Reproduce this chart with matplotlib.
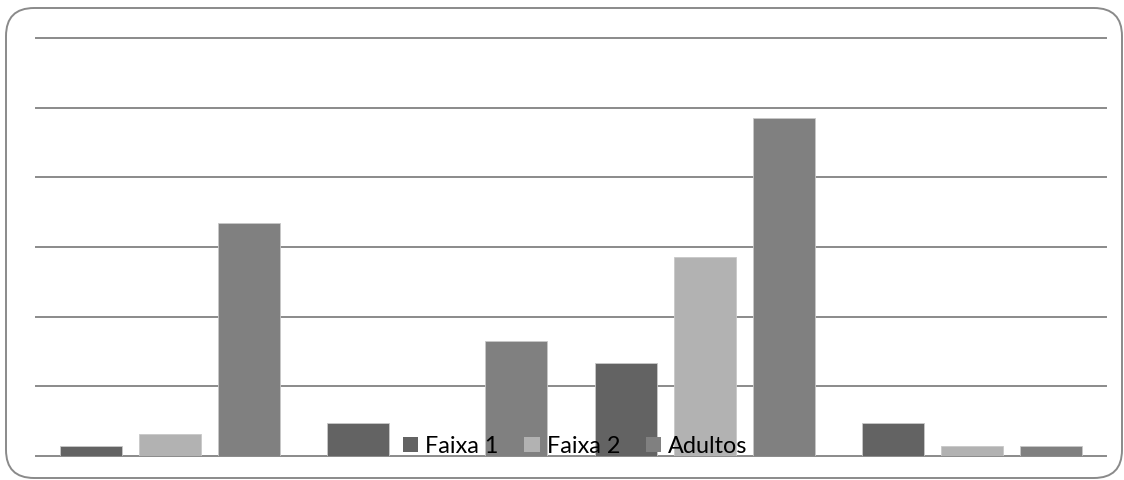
import numpy as np
import matplotlib
matplotlib.use("Agg")
import matplotlib.pyplot as plt
from matplotlib.patches import FancyBboxPatch

# data (gridline step = 1)
groups = ["G1", "G2", "G3", "G4"]
faixa_1 = [0.14, 0.47, 1.33, 0.47]
faixa_2 = [0.32, 0.0, 2.85, 0.14]
adultos = [3.34, 1.65, 4.85, 0.14]
series_names = ["Faixa 1", "Faixa 2", "Adultos"]
series_colors = ["#636363", "#b2b2b2", "#808080"]

plt.rcParams['font.family'] = ['Lato', 'DejaVu Sans']

fig = plt.figure(figsize=(11.24, 4.81), dpi=100)

# rounded outer frame
frame = FancyBboxPatch((6 / 1124, 2 / 481), 1116 / 1124, 470 / 481,
                       boxstyle="round,pad=0,rounding_size=0.025",
                       transform=fig.transFigure, facecolor="none",
                       edgecolor="#8a8a8a", linewidth=1.4,
                       mutation_aspect=1124 / 481, zorder=-1)
fig.patches.append(frame)

ax = fig.add_axes([36 / 1124, 1 - 457 / 481, 1070 / 1124, (457 - 39) / 481])
ax.set_facecolor("none")

x = np.arange(len(groups))
bar_w = 0.232
step = 0.296
for i, (vals, name, col) in enumerate(zip([faixa_1, faixa_2, adultos], series_names, series_colors)):
    ax.bar(x + (i - 1) * step, vals, width=bar_w, color=col, label=name,
           edgecolor="#c8c8c8", linewidth=0.6, zorder=3)

ax.set_xlim(-0.5, len(groups) - 0.5)
ax.set_ylim(0, 6)
ax.set_yticks(np.arange(0, 7, 1))
ax.yaxis.grid(True, color="#8a8a8a", linewidth=1.4)
for t in ax.yaxis.get_major_ticks():
    t.gridline.set_clip_on(False)
ax.set_axisbelow(True)
ax.tick_params(left=False, bottom=False, labelleft=False, labelbottom=False)
for sp in ax.spines.values():
    sp.set_visible(False)

leg = ax.legend(loc="center", bbox_to_anchor=(575 / 1124, 1 - 447 / 481),
                bbox_transform=fig.transFigure, ncol=3, frameon=False,
                fontsize=16.8, handlelength=0.66, handleheight=0.58,
                handletextpad=0.3, columnspacing=1.1, borderpad=0)
for h in leg.legend_handles:
    h.set_edgecolor("none")

fig.savefig("out.png", dpi=100)
